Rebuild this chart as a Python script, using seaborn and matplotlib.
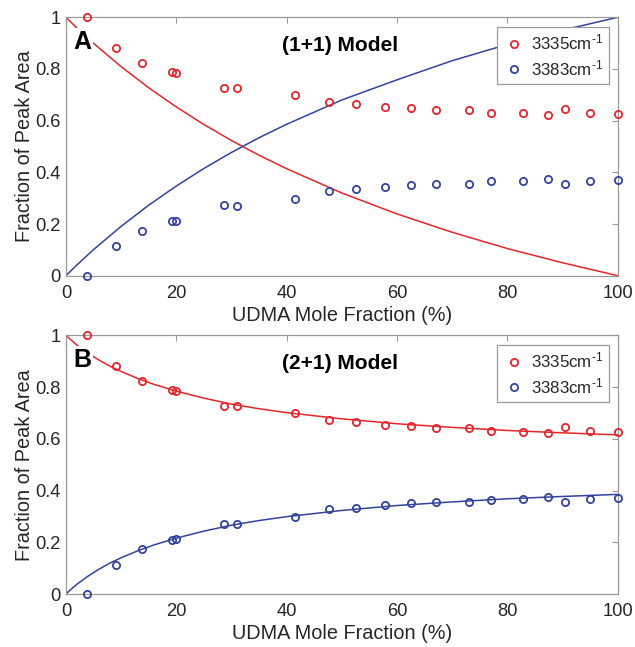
import matplotlib
matplotlib.use("Agg")
import matplotlib.pyplot as plt
import seaborn as sns
import numpy as np

# ---------------- data ----------------
udma_pct = [3.9, 9.0, 13.8, 19.2, 20.0, 28.6, 31.0, 41.5, 47.7, 52.6,
            57.9, 62.6, 67.1, 73.1, 77.0, 82.8, 87.4, 90.4, 95.0, 100.0]
frac_3335 = [1.000, 0.882, 0.824, 0.788, 0.786, 0.725, 0.728, 0.700, 0.671, 0.666,
             0.653, 0.648, 0.643, 0.643, 0.631, 0.628, 0.623, 0.645, 0.631, 0.626]
frac_3383 = [0.000, 0.114, 0.173, 0.210, 0.213, 0.272, 0.270, 0.297, 0.327, 0.334,
             0.344, 0.350, 0.355, 0.355, 0.365, 0.368, 0.374, 0.354, 0.366, 0.372]

# (1+1) model curves
fit1_x = [0, 2, 5, 10, 15, 20, 25, 30, 35, 40, 50, 60, 70, 80, 90, 100]
fit1_3335 = [1.000, 0.958, 0.899, 0.809, 0.727, 0.653, 0.585, 0.523, 0.466, 0.414,
             0.320, 0.239, 0.168, 0.105, 0.050, 0.000]
fit1_3383 = [0.000, 0.042, 0.101, 0.191, 0.273, 0.347, 0.415, 0.477, 0.534, 0.586,
             0.680, 0.758, 0.832, 0.895, 0.950, 1.000]

# (2+1) model curves
fit2_x = [0, 1, 2, 4, 6, 8, 10, 13, 16, 20, 25, 30, 35, 40, 50, 60, 70, 80, 90, 100]
fit2_3335 = [1.000, 0.980, 0.962, 0.931, 0.904, 0.880, 0.860, 0.833, 0.810, 0.784,
             0.757, 0.734, 0.716, 0.701, 0.677, 0.658, 0.644, 0.632, 0.623, 0.615]
fit2_3383 = [0.000, 0.020, 0.038, 0.069, 0.096, 0.120, 0.140, 0.167, 0.190, 0.216,
             0.243, 0.266, 0.284, 0.299, 0.323, 0.342, 0.356, 0.368, 0.377, 0.385]

series_labels = [r"3335cm$^{\text{-}1}$", r"3383cm$^{\text{-}1}$"]
panel_letters = ["A", "B"]
panel_titles = ["(1+1) Model", "(2+1) Model"]
x_ticks = [0, 20, 40, 60, 80, 100]
y_ticks = [0, 0.2, 0.4, 0.6, 0.8, 1.0]
y_ticklabels = ["0", "0.2", "0.4", "0.6", "0.8", "1"]
x_label = "UDMA Mole Fraction (%)"
y_label = "Fraction of Peak Area"

# ---------------- style ----------------
sns.set_style("white")
plt.rcParams["font.family"] = ["Liberation Sans", "DejaVu Sans"]
plt.rcParams["mathtext.fontset"] = "custom"
plt.rcParams["mathtext.rm"] = "Liberation Sans"
plt.rcParams["mathtext.it"] = "Liberation Sans"
plt.rcParams["mathtext.default"] = "regular"

RED = "#e5262b"
BLUE = "#33439e"
SPINE = "#9a9a9a"
TXT = "#262626"

fig = plt.figure(figsize=(6.35, 6.47), dpi=100)
ax_top = fig.add_axes([0.1039, 0.5739, 0.8689, 0.3994])
ax_bot = fig.add_axes([0.1039, 0.0819, 0.8689, 0.3999])

fits = [(fit1_x, fit1_3335, fit1_3383), (fit2_x, fit2_3335, fit2_3383)]

for ax, (fx, fr, fb), letter, title in zip([ax_top, ax_bot], fits, panel_letters, panel_titles):
    sns.lineplot(x=fx, y=fr, ax=ax, color=RED, lw=1.1, estimator=None, sort=False, zorder=2)
    sns.lineplot(x=fx, y=fb, ax=ax, color=BLUE, lw=1.1, estimator=None, sort=False, zorder=2)
    sns.lineplot(x=udma_pct, y=frac_3335, ax=ax, estimator=None, sort=False,
                 linestyle="", marker="o", markersize=5.2, markerfacecolor="none",
                 markeredgecolor=RED, markeredgewidth=1.3, color=RED,
                 clip_on=False, zorder=4, label=series_labels[0])
    sns.lineplot(x=udma_pct, y=frac_3383, ax=ax, estimator=None, sort=False,
                 linestyle="", marker="o", markersize=5.2, markerfacecolor="none",
                 markeredgecolor=BLUE, markeredgewidth=1.3, color=BLUE,
                 clip_on=False, zorder=4, label=series_labels[1])

    ax.set_xlim(0, 100)
    ax.set_ylim(0, 1)
    ax.set_xticks(x_ticks)
    ax.set_xticklabels([str(t) for t in x_ticks])
    ax.set_yticks(y_ticks)
    ax.set_yticklabels(y_ticklabels)
    ax.tick_params(axis="both", direction="in", length=4.5, width=0.8, color=SPINE,
                   labelsize=13.2, labelcolor=TXT, top=True, right=True)
    ax.tick_params(axis="x", pad=6.5)
    ax.tick_params(axis="y", pad=3.6)
    for s in ax.spines.values():
        s.set_color(SPINE)
        s.set_linewidth(0.9)
        s.set_visible(True)
    ax.set_xlabel(x_label, fontsize=14.3, color=TXT, labelpad=3)
    ax.set_ylabel(y_label, fontsize=14.3, color=TXT, labelpad=1.5)

    ax.text(0.0127, 0.879, letter, transform=ax.transAxes, fontsize=18, fontweight="bold",
            ha="left", va="baseline", color="black", zorder=5,
            bbox=dict(facecolor="white", edgecolor="none", pad=1.5))
    ax.text(0.4966, 0.870, title, transform=ax.transAxes, fontsize=15, fontweight="bold",
            ha="center", va="baseline", color="black", zorder=5)

    leg = ax.legend(loc="upper right", bbox_to_anchor=(0.985, 0.9636), borderaxespad=0,
                    fontsize=12.2, frameon=True, fancybox=False, edgecolor=SPINE,
                    framealpha=1, handlelength=1.4, handletextpad=0.3,
                    borderpad=0.35, labelspacing=0.35)
    leg.get_frame().set_linewidth(0.9)
    for t in leg.get_texts():
        t.set_color(TXT)

fig.savefig("out.png", dpi=100, facecolor="white")
